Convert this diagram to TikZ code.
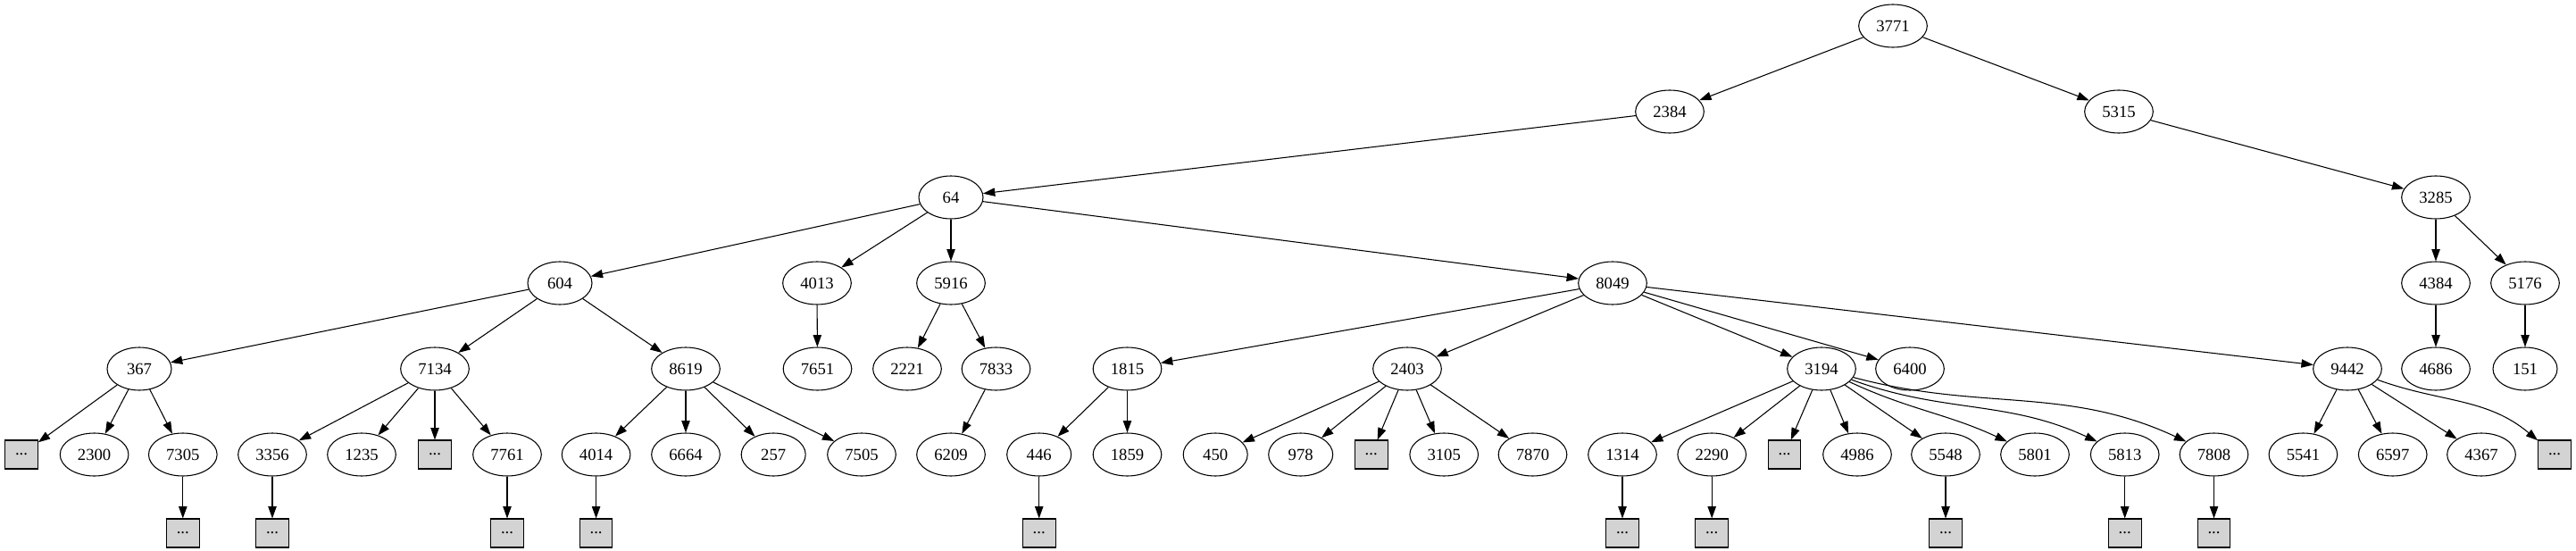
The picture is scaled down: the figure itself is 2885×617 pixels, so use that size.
\documentclass[tikz,border=0pt]{standalone}
\usepackage{fontspec}
\setmainfont{Liberation Serif}
\usetikzlibrary{shapes.geometric,arrows.meta}
\definecolor{lightgr}{HTML}{D3D3D3}
\newcommand{\gvf}[3]{\node[efour] (n#1) at (#2,#3) {#1};}
\newcommand{\gvt}[3]{\node[ethree] (n#1) at (#2,#3) {#1};}
\newcommand{\gvb}[3]{\node[bx] (#1) at (#2,#3) {...};}
\begin{document}
\begin{tikzpicture}[x=0.75pt,y=-0.75pt,
  every node/.style={font=\fontsize{14}{16}\selectfont},
  ethree/.style={ellipse,draw,line width=0.8pt,minimum width=54pt,minimum height=36pt,inner sep=0pt},
  efour/.style={ethree,minimum width=57.5pt},
  bx/.style={rectangle,draw,fill=lightgr,line width=0.8pt,minimum width=27.5pt,minimum height=24pt,inner sep=0pt},
  ar/.style={-{Triangle[length=10pt,width=7pt]},line width=0.8pt}]
\useasboundingbox (0,0) rectangle (2885,617);
% row 0-3
\gvf{3771}{2120}{29}
\gvf{2384}{1870}{125}
\gvf{5315}{2373}{125}
\gvt{64}{1065}{221}
\gvf{3285}{2728}{221}
\gvt{604}{627}{317}
\gvf{4013}{915}{317}
\gvf{5916}{1065}{317}
\gvf{8049}{1806}{317}
\gvf{4384}{2728}{317}
\gvf{5176}{2828}{317}
% row 4
\gvt{367}{156}{413}
\gvf{7134}{487}{413}
\gvf{8619}{768}{413}
\gvf{7651}{915.5}{413}
\gvf{2221}{1016}{413}
\gvf{7833}{1115.5}{413}
\gvf{1815}{1262.5}{413}
\gvf{2403}{1576}{413}
\gvf{3194}{2040}{413}
\gvf{6400}{2139}{413}
\gvf{9442}{2629}{413}
\gvf{4686}{2728}{413}
\gvt{151}{2828}{413}
% row 5
\gvb{bA}{24}{509}
\gvf{2300}{105.6}{509}
\gvf{7305}{204.8}{509}
\gvf{3356}{305}{509}
\gvf{1235}{405}{509}
\gvb{bB}{487}{509}
\gvf{7761}{568}{509}
\gvf{4014}{667.6}{509}
\gvf{6664}{768}{509}
\gvt{257}{866.2}{509}
\gvf{7505}{965}{509}
\gvf{6209}{1065}{509}
\gvt{446}{1163.7}{509}
\gvf{1859}{1262.5}{509}
\gvt{450}{1361.2}{509}
\gvt{978}{1456.7}{509}
\gvb{bC}{1535.7}{509}
\gvf{3105}{1617.2}{509}
\gvf{7870}{1716.5}{509}
\gvf{1314}{1817}{509}
\gvf{2290}{1917.2}{509}
\gvb{bD}{1998.6}{509}
\gvf{4986}{2080}{509}
\gvf{5548}{2179}{509}
\gvf{5801}{2279}{509}
\gvf{5813}{2379.7}{509}
\gvf{7808}{2479.5}{509}
\gvf{5541}{2579.4}{509}
\gvf{6597}{2679.7}{509}
\gvf{4367}{2779}{509}
\gvb{bE}{2861}{509}
% row 6
\gvb{c7305}{204.8}{597}
\gvb{c3356}{305}{597}
\gvb{c7761}{568}{597}
\gvb{c4014}{667.6}{597}
\gvb{c446}{1163.7}{597}
\gvb{c1314}{1817}{597}
\gvb{c2290}{1917.2}{597}
\gvb{c5548}{2179}{597}
\gvb{c5813}{2379.7}{597}
\gvb{c7808}{2479.5}{597}
% edges
\foreach \a/\b in {n3771/n2384,n3771/n5315,n2384/n64,n5315/n3285,
  n64/n604,n64/n4013,n64/n5916,n64/n8049,n3285/n4384,n3285/n5176,
  n604/n367,n604/n7134,n604/n8619,n4013/n7651,n5916/n2221,n5916/n7833,
  n8049/n1815,n8049/n2403,n8049/n3194,n8049/n6400,n8049/n9442,
  n4384/n4686,n5176/n151,
  n367/bA,n367/n2300,n367/n7305,
  n7134/n3356,n7134/n1235,n7134/bB,n7134/n7761,
  n8619/n4014,n8619/n6664,n8619/n257,n8619/n7505,
  n7833/n6209,n1815/n446,n1815/n1859,
  n2403/n450,n2403/n978,n2403/bC,n2403/n3105,n2403/n7870,
  n3194/n1314,n3194/n2290,n3194/bD,n3194/n4986,n3194/n5548,
  n9442/n5541,n9442/n6597,n9442/n4367,
  n7305/c7305,n3356/c3356,n7761/c7761,n4014/c4014,n446/c446,
  n1314/c1314,n2290/c2290,n5548/c5548,n5813/c5813,n7808/c7808}
  \draw[ar] (\a) -- (\b);
\draw[ar] (n3194) to[out=-25,in=155] (n5801);
\draw[ar] (n3194) to[out=-20,in=155] (n5813);
\draw[ar] (n3194) to[out=-15,in=155] (n7808);
\draw[ar] (n9442) to[out=-20,in=140] (bE);
\end{tikzpicture}
\end{document}
